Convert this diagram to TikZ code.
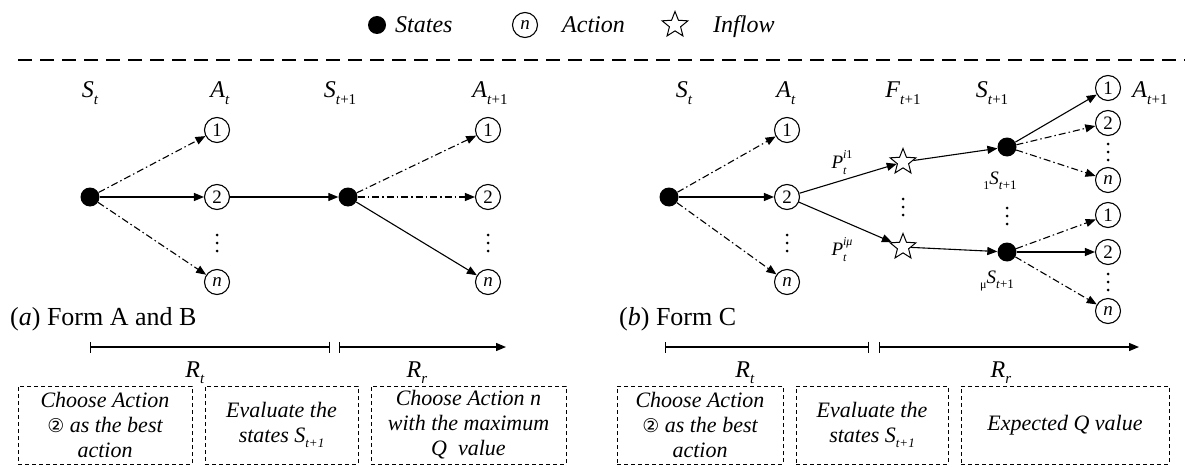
\documentclass[tikz,border=0pt]{standalone}
\usepackage{fontspec}
\setmainfont{Liberation Serif}
\newfontfamily\dvsfont{DejaVu Sans}
\usetikzlibrary{shapes.geometric,arrows.meta}

\newcommand{\vsub}[2]{\textit{#1}\raisebox{-0.28em}{\fontsize{15}{15}\selectfont #2}}
\newcommand{\bsub}[2]{\textit{#1}\raisebox{-0.25em}{\fontsize{13}{13}\selectfont #2}}
\newcommand{\pst}[1]{\textit{P}\rlap{\raisebox{-0.35em}{\fontsize{12}{12}\selectfont\itshape t}}\raisebox{0.5em}{\fontsize{12}{12}\selectfont #1}}
\newcommand{\prs}[1]{\raisebox{-0.3em}{\fontsize{12}{12}\selectfont #1}\textit{S}\raisebox{-0.3em}{\fontsize{13}{13}\selectfont\textit{t}+1}}

\begin{document}
\begin{tikzpicture}[x=1pt,y=-1pt,
  st/.style={circle,fill=black,inner sep=0pt,minimum size=19pt},
  act/.style={circle,draw,line width=1.1pt,inner sep=0pt,minimum size=25pt,font=\fontsize{19}{19}\selectfont},
  inflow/.style={star,star points=5,star point ratio=2.3,draw,line width=1pt,inner sep=0pt,minimum size=27pt},
  lab/.style={font=\fontsize{24}{26}\selectfont,anchor=base,inner sep=0pt},
  smlab/.style={font=\fontsize{19}{20}\selectfont,anchor=base,inner sep=0pt},
  leg/.style={font=\fontsize{24}{26}\selectfont\itshape,anchor=base west,inner sep=0pt},
  captxt/.style={font=\fontsize{26}{28}\selectfont,anchor=base west,inner sep=0pt},
  solidarr/.style={line width=1.1pt,-{Triangle[length=10pt,width=8pt]}},
  dasharr/.style={solidarr,dash pattern=on 7pt off 3pt on 1.5pt off 3pt},
  rline/.style={line width=1.3pt},
  sepline/.style={line width=2.5pt,dash pattern=on 14pt off 8pt},
  boxt/.style={draw,dash pattern=on 4pt off 3pt,line width=0.9pt,align=center,inner sep=0pt,
    font=\fontsize{22}{25}\selectfont\itshape},
  vdts/.pic={\fill (0,-8) circle (1.5pt) (0,0) circle (1.5pt) (0,8) circle (1.5pt);}
]
\useasboundingbox (0,0) rectangle (1185,468);

% legend
\node[st,minimum size=18pt] (gS) at (377,25) {};
\node[leg] (gSt) at (395,33) {States};
\node[act] (gA) at (525,25) {\textit{n}};
\node[leg] (gAt) at (562,33) {Action};
\node[inflow] (gF) at (675,25) {};
\node[leg] (gFt) at (713,33) {Inflow};

% separator
\coordinate (sepL) at (18,60);
\coordinate (sepR) at (1185,60);
\draw[sepline] (sepL) -- (sepR);

% ---------- left panel ----------
\node[lab] (lSt) at (90,98) {\vsub{S}{\textit{t}}};
\node[lab] (lAt) at (220,98) {\vsub{A}{\textit{t}}};
\node[lab] (lS1) at (340,98) {\vsub{S}{\textit{t}+1}};
\node[lab] (lA1) at (490,98) {\vsub{A}{\textit{t}+1}};

\node[st] (LS) at (90,197) {};
\node[act] (LA1) at (217,130) {1};
\node[act] (LA2) at (217,197) {2};
\pic at (217,243) {vdts};
\node[act] (LAn) at (217,282) {\textit{n}};
\node[st] (LS1) at (348,197) {};
\node[act] (LB1) at (488,130) {1};
\node[act] (LB2) at (488,197) {2};
\pic at (488,243) {vdts};
\node[act] (LBn) at (488,282) {\textit{n}};

\draw[dasharr] (LS) -- (LA1);
\draw[solidarr] (LS) -- (LA2);
\draw[dasharr] (LS) -- (LAn);
\draw[solidarr] (LA2) -- (LS1);
\draw[dasharr] (LS1) -- (LB1);
\draw[dasharr] (LS1) -- (LB2);
\draw[solidarr] (LS1) -- (LBn);

\node[captxt] (capA) at (10,325) {(\textit{a}) Form A and B};

\coordinate (lr1) at (90,347);
\coordinate (lr2) at (330,347);
\coordinate (lr3) at (339,347);
\coordinate (lr4) at (506,347);
\draw[rline,{Bar[width=11pt]}-{Bar[width=11pt]}] (lr1) -- (lr2);
\draw[rline,{Bar[width=11pt]}-{Triangle[length=10pt,width=8pt]}] (lr3) -- (lr4);
\node[lab] (lRt) at (195,377) {\vsub{R}{\textit{t}}};
\node[lab] (lRr) at (417,377) {\vsub{R}{\textit{r}}};

\node[boxt,minimum width=174pt,minimum height=78pt] (lb1) at (105,425)
  {Choose Action\\{\upshape\dvsfont\fontsize{19}{19}\selectfont ②} as the best\\action};
\node[boxt,minimum width=153pt,minimum height=78pt] (lb2) at (281.5,425)
  {Evaluate the\\states \bsub{S}{\textit{t}+1}};
\node[boxt,minimum width=195pt,minimum height=78pt] (lb3) at (468.5,425)
  {Choose Action \textit{n}\\with the maximum\\\textit{Q}\ \ value};

% ---------- right panel ----------
\node[lab] (rSt) at (684,98) {\vsub{S}{\textit{t}}};
\node[lab] (rAt) at (786,98) {\vsub{A}{\textit{t}}};
\node[lab] (rFt) at (903,98) {\vsub{F}{\textit{t}+1}};
\node[lab] (rS1) at (992,98) {\vsub{S}{\textit{t}+1}};
\node[lab] (rA1) at (1150,98) {\vsub{A}{\textit{t}+1}};

\node[st] (RS) at (669,197) {};
\node[act] (RA1) at (787,130) {1};
\node[act] (RA2) at (787,197) {2};
\pic at (787,243) {vdts};
\node[act] (RAn) at (787,282) {\textit{n}};

\node[inflow] (F1) at (903,162) {};
\node[inflow] (F2) at (903,247) {};
\pic at (903,207) {vdts};

\node[st] (S1) at (1007,147) {};
\node[st] (S2) at (1007,252) {};
\pic at (1007,216) {vdts};
\node[smlab] (s1l) at (1000,184) {\prs{1}};
\node[smlab] (s2l) at (997,283) {\prs{μ}};

\node[smlab] (P1) at (842,168) {\pst{\textit{i}1}};
\node[smlab] (P2) at (842,255) {\pst{\textit{i}\textit{μ}}};

\node[act] (C1) at (1108,88) {1};
\node[act] (C2) at (1108,123) {2};
\pic at (1108,152) {vdts};
\node[act] (Cn) at (1108,180) {\textit{n}};
\node[act] (D1) at (1108,215) {1};
\node[act] (D2) at (1108,252) {2};
\pic at (1108,282) {vdts};
\node[act] (Dn) at (1108,311) {\textit{n}};

\draw[dasharr] (RS) -- (RA1);
\draw[solidarr] (RS) -- (RA2);
\draw[dasharr] (RS) -- (RAn);
\draw[solidarr] (RA2) -- (F1);
\draw[solidarr] (RA2) -- (F2);
\draw[solidarr] (F1) -- (S1);
\draw[solidarr] (F2) -- (S2);
\draw[solidarr] (S1) -- (C1);
\draw[dasharr] (S1) -- (C2);
\draw[dasharr] (S1) -- (Cn);
\draw[dasharr] (S2) -- (D1);
\draw[solidarr] (S2) -- (D2);
\draw[dasharr] (S2) -- (Dn);

\node[captxt] (capB) at (619,325) {(\textit{b}) Form C};

\coordinate (rr1) at (665,347);
\coordinate (rr2) at (869,347);
\coordinate (rr3) at (879,347);
\coordinate (rr4) at (1139,347);
\draw[rline,{Bar[width=11pt]}-{Bar[width=11pt]}] (rr1) -- (rr2);
\draw[rline,{Bar[width=11pt]}-{Triangle[length=10pt,width=8pt]}] (rr3) -- (rr4);
\node[lab] (rRt) at (745,377) {\vsub{R}{\textit{t}}};
\node[lab] (rRr) at (1001,377) {\vsub{R}{\textit{r}}};

\node[boxt,minimum width=166pt,minimum height=78pt] (rb1) at (700,425)
  {Choose Action\\{\upshape\dvsfont\fontsize{19}{19}\selectfont ②} as the best\\action};
\node[boxt,minimum width=152pt,minimum height=78pt] (rb2) at (872,425)
  {Evaluate the\\states \bsub{S}{\textit{t}+1}};
\node[boxt,minimum width=208pt,minimum height=78pt] (rb3) at (1065,425)
  {Expected \textit{Q} value};
\end{tikzpicture}
\end{document}
